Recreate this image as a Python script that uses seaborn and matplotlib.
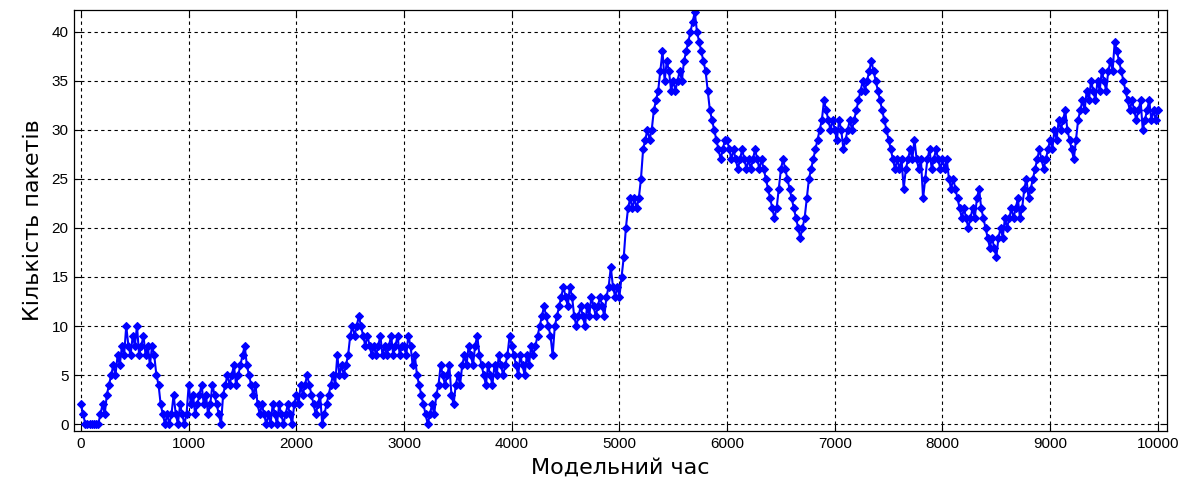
import numpy as np
import pandas as pd
import matplotlib
matplotlib.use("Agg")
import matplotlib.pyplot as plt
import seaborn as sns

# Queue length (packets) sampled every 20 units of model time, one list per 1000 units
sample_step = 20
packets_0k = [2, 1, 0, 0, 0,  0, 0, 0, 0, 1,  2, 1, 3, 4, 5,  6, 5, 7, 6, 8,  7, 10, 8, 7, 9,
              8, 10, 7, 8, 9,  7, 8, 6, 8, 7,  5, 4, 2, 1, 0,  1, 0, 1, 3, 1,  0, 2, 1, 0, 1]
packets_1k = [4, 2, 3, 1, 2,  3, 4, 2, 3, 1,  2, 4, 3, 2, 1,  0, 3, 4, 5, 4,  5, 6, 4, 5, 6,
              7, 8, 6, 5, 4,  3, 4, 2, 1, 2,  1, 0, 1, 0, 2,  1, 0, 2, 1, 0,  1, 2, 1, 0, 2]
packets_2k = [3, 2, 4, 3, 4,  5, 4, 3, 2, 1,  2, 3, 0, 1, 2,  3, 4, 5, 4, 7,  5, 6, 5, 6, 7,
              9, 10, 9, 10, 11,  10, 9, 8, 9, 8,  7, 8, 7, 8, 9,  7, 8, 7, 8, 9,  7, 8, 9, 7, 8]
packets_3k = [8, 7, 9, 8, 6,  7, 5, 4, 3, 2,  1, 0, 1, 2, 1,  3, 4, 6, 5, 4,  5, 6, 3, 2, 4,
              5, 4, 6, 7, 6,  8, 7, 6, 8, 9,  7, 6, 5, 4, 6,  5, 4, 6, 5, 7,  6, 5, 6, 7, 9]
packets_4k = [8, 7, 6, 5, 7,  6, 5, 7, 6, 8,  7, 8, 9, 10, 11,  12, 11, 10, 9, 7,  10, 11, 12, 13, 14,
              13, 12, 14, 13, 11,  10, 11, 12, 11, 10,  12, 11, 13, 12, 11,  12, 13, 12, 11, 13,
              14, 16, 14, 13, 14]
packets_5k = [13, 15, 17, 20, 22,  23, 22, 23, 22, 23,  25, 28, 29, 30, 29,  30, 32, 33, 34, 36,
              38, 35, 37, 36, 34,  35, 34, 35, 36, 35,  37, 38, 39, 40, 41,  42, 40, 39, 38, 37,
              36, 34, 32, 31, 30,  29, 28, 27, 28, 29]
packets_6k = [29, 28, 27, 28, 27,  26, 27, 28, 27, 26,  27, 26, 27, 28, 27,  26, 27, 26, 25, 24,
              23, 22, 21, 22, 24,  26, 27, 26, 25, 24,  23, 22, 21, 20, 19,  20, 21, 23, 25, 26,
              27, 28, 29, 30, 31,  33, 32, 31, 30, 31]
packets_7k = [30, 29, 31, 30, 28,  29, 30, 31, 30, 31,  32, 33, 34, 35, 34,  35, 36, 37, 36, 35,
              34, 33, 32, 31, 30,  29, 28, 27, 26, 27,  26, 27, 24, 26, 27,  28, 27, 29, 27, 26,
              27, 23, 25, 27, 28,  26, 27, 28, 27, 26]
packets_8k = [27, 26, 27, 25, 24,  25, 24, 23, 22, 21,  22, 21, 20, 21, 22,  21, 23, 24, 22, 21,
              20, 19, 18, 19, 18,  17, 19, 20, 19, 21,  20, 21, 22, 21, 22,  23, 21, 22, 24, 25,
              23, 24, 25, 26, 27,  28, 27, 26, 27, 28]
packets_9k = [29, 28, 30, 29, 31,  30, 31, 32, 30, 29,  28, 27, 29, 31, 32,  33, 32, 34, 33, 35,
              34, 33, 35, 34, 36,  35, 34, 36, 37, 36,  39, 38, 37, 36, 35,  34, 33, 32, 33, 32,
              31, 32, 33, 30, 31,  32, 33, 31, 32, 31,  32]

x_ticks = [0, 1000, 2000, 3000, 4000, 5000, 6000, 7000, 8000, 9000, 10000]
y_ticks = [0, 5, 10, 15, 20, 25, 30, 35, 40]
x_label = "Модельний час"
y_label = "Кількість пакетів"

packets = (packets_0k + packets_1k + packets_2k + packets_3k + packets_4k
           + packets_5k + packets_6k + packets_7k + packets_8k + packets_9k)
model_time = np.arange(len(packets)) * sample_step
df = pd.DataFrame({"time": model_time, "packets": packets})

sns.set_theme(style="white")
plt.rcParams["font.family"] = ["DejaVu Sans"]

fig = plt.figure(figsize=(11.88, 4.86), dpi=100)
ax = fig.add_axes([0.0623, 0.1132, 0.92, 0.866])

sns.lineplot(data=df, x="time", y="packets", ax=ax, color="#0000ff",
             linewidth=1.5, marker="D", markersize=4, markeredgewidth=0.8,
             markeredgecolor="#0000ff", estimator=None, sort=False)

ax.set_xlim(-65, 10085)
ax.set_ylim(-0.7, 42.2)
ax.set_xticks(x_ticks)
ax.set_yticks(y_ticks)
ax.set_xticklabels([str(v) for v in x_ticks], fontfamily="Liberation Sans", fontsize=11)
ax.set_yticklabels([str(v) for v in y_ticks], fontfamily="Liberation Sans", fontsize=11)

ax.grid(True, color="black", linestyle=(0, (3, 3)), linewidth=0.8)
ax.tick_params(direction="in", length=5, width=0.8, colors="black",
               top=True, right=True, bottom=True, left=True, pad=4)
for s in ax.spines.values():
    s.set_visible(True)
    s.set_color("black")
    s.set_linewidth(0.9)

ax.set_xlabel(x_label, fontsize=16, color="black", labelpad=5)
ax.set_ylabel(y_label, fontsize=16, color="black", labelpad=6)

fig.savefig("out.png", dpi=100, facecolor="white")
